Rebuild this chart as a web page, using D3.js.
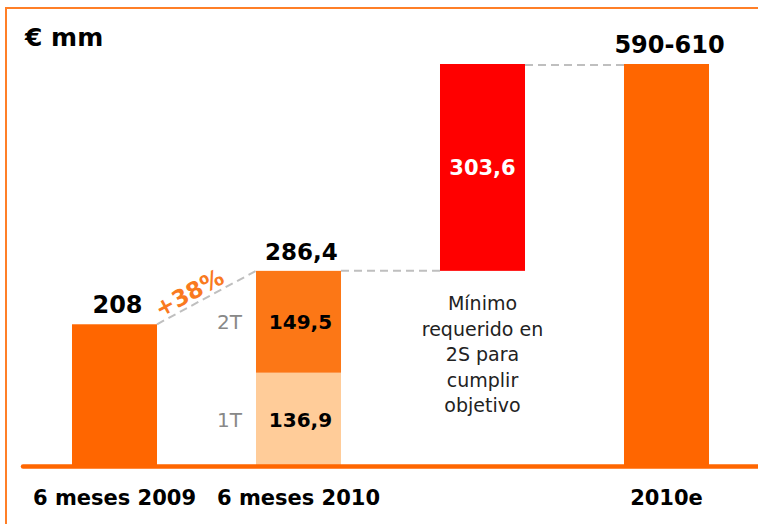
<!DOCTYPE html>
<html lang="es">
<head>
    <meta charset="UTF-8">
    <title>EBITDA objetivo 2010</title>
    <style>
        body { margin: 0; background: #fff; }
        svg { display: block; font-family: "DejaVu Sans", Verdana, sans-serif; }
    </style>
</head>
<body>
    <script src="https://d3js.org/d3.v7.min.js"></script>
    <script>
        // data
        let categories = ["6 meses 2009", "6 meses 2010", "minimo", "2010e"];
        let xLabels = ["6 meses 2009", "6 meses 2010", "", "2010e"];
        let firstHalf2009 = 208;
        let quarterLabels = ["1T", "2T"];
        let quarterValues = [136.9, 149.5];
        let required2S = 303.6;
        let target2010 = [590, 610];
        let growthLabel = "+38%";
        let noteLines = ["Mínimo", "requerido en", "2S para", "cumplir", "objetivo"];

        let W = 758, H = 524;
        let orange = "#FF6600", orangeMid = "#FC7716", orangeLight = "#FFCC99", red = "#FF0000";
        let frame = "#FF7F27", dash = "#BFBFBF";

        let es = d3.formatLocale({ decimal: ",", thousands: ".", grouping: [3], currency: ["", " €"] });
        let fmt = es.format(",.1f");

        let svg = d3.select("body").append("svg")
            .attr("width", W)
            .attr("height", H);

        let x = d3.scaleBand()
            .domain(categories)
            .range([22.5, 758.5])
            .paddingInner(0.538)
            .paddingOuter(0.269);

        let y = d3.scaleLinear()
            .domain([0, target2010[0]])
            .range([466, 64]);

        let bw = x.bandwidth();
        let total2010 = d3.sum(quarterValues);

        // frame
        svg.append("path")
            .attr("d", "M6," + H + " V8 H" + W)
            .attr("fill", "none")
            .attr("stroke", frame)
            .attr("stroke-width", 2);

        svg.append("text")
            .attr("x", 25).attr("y", 46)
            .attr("font-size", 25).attr("font-weight", "bold")
            .text("€ mm");

        // bar 2009
        svg.append("rect")
            .attr("x", x(categories[0])).attr("width", bw)
            .attr("y", y(firstHalf2009)).attr("height", y(0) - y(firstHalf2009))
            .attr("fill", orange);

        // stacked 2010 quarters
        let stack = [];
        let acc = 0;
        quarterValues.forEach(function(v, i) {
            stack.push({ label: quarterLabels[i], v: v, y0: acc, y1: acc + v });
            acc += v;
        });
        let qColors = [orangeLight, orangeMid];

        svg.selectAll("rect.q").data(stack).enter().append("rect")
            .attr("class", "q")
            .attr("x", x(categories[1])).attr("width", bw)
            .attr("y", function(d) { return y(d.y1); })
            .attr("height", function(d) { return y(d.y0) - y(d.y1); })
            .attr("fill", function(d, i) { return qColors[i]; });

        svg.selectAll("text.qv").data(stack).enter().append("text")
            .attr("class", "qv")
            .attr("x", x(categories[1]) + bw / 2 + 2)
            .attr("y", function(d) { return (y(d.y0) + y(d.y1)) / 2 + 7.5; })
            .attr("text-anchor", "middle")
            .attr("font-size", 20).attr("font-weight", "bold")
            .text(function(d) { return fmt(d.v); });

        svg.selectAll("text.ql").data(stack).enter().append("text")
            .attr("class", "ql")
            .attr("x", x(categories[1]) - 14)
            .attr("y", function(d) { return (y(d.y0) + y(d.y1)) / 2 + 7.5; })
            .attr("text-anchor", "end")
            .attr("font-size", 20).attr("fill", "#888")
            .text(function(d) { return d.label; });

        // required in 2S (floating)
        let reqTop = total2010 + required2S;
        svg.append("rect")
            .attr("x", x(categories[2])).attr("width", bw)
            .attr("y", y(reqTop)).attr("height", y(total2010) - y(reqTop))
            .attr("fill", red);

        svg.append("text")
            .attr("x", x(categories[2]) + bw / 2)
            .attr("y", (y(total2010) + y(reqTop)) / 2 + 7.5)
            .attr("text-anchor", "middle")
            .attr("font-size", 21).attr("font-weight", "bold").attr("fill", "#fff")
            .text(fmt(required2S));

        // 2010e bar
        svg.append("rect")
            .attr("x", x(categories[3])).attr("width", bw)
            .attr("y", y(target2010[0])).attr("height", y(0) - y(target2010[0]))
            .attr("fill", orange);

        // dashed connectors
        let links = [
            [x(categories[0]) + bw, y(firstHalf2009), x(categories[1]), y(total2010)],
            [x(categories[1]) + bw, y(total2010), x(categories[2]), y(total2010)],
            [x(categories[2]) + bw, y(reqTop) + 1, x(categories[3]), y(reqTop) + 1]
        ];
        svg.selectAll("line.dash").data(links).enter().append("line")
            .attr("class", "dash")
            .attr("x1", function(d) { return d[0]; }).attr("y1", function(d) { return d[1]; })
            .attr("x2", function(d) { return d[2]; }).attr("y2", function(d) { return d[3]; })
            .attr("stroke", dash).attr("stroke-width", 2)
            .attr("stroke-dasharray", "8,5");

        // totals on top
        let tops = [
            { c: categories[0], v: firstHalf2009, t: d3.format("d")(firstHalf2009), size: 24 },
            { c: categories[1], v: total2010, t: fmt(total2010), size: 23 },
            { c: categories[3], v: target2010[0], t: target2010.join("-"), size: 24 }
        ];
        svg.selectAll("text.top").data(tops).enter().append("text")
            .attr("class", "top")
            .attr("x", function(d) { return x(d.c) + bw / 2 + 3; })
            .attr("y", function(d) { return y(d.v) - 11; })
            .attr("text-anchor", "middle")
            .attr("font-size", function(d) { return d.size; })
            .attr("font-weight", "bold")
            .text(function(d) { return d.t; });

        // growth label along the connector
        let ang = Math.atan2(links[0][3] - links[0][1], links[0][2] - links[0][0]) * 180 / Math.PI;
        svg.append("text")
            .attr("transform", "translate(193,300) rotate(" + ang + ")")
            .attr("text-anchor", "middle")
            .attr("font-size", 23).attr("font-weight", "bold").attr("fill", "#F97A1F")
            .text(growthLabel);

        // note under the red bar
        svg.append("g").selectAll("text").data(noteLines).enter().append("text")
            .attr("x", x(categories[2]) + bw / 2)
            .attr("y", function(d, i) { return 310 + i * 25.5; })
            .attr("text-anchor", "middle")
            .attr("font-size", 19).attr("fill", "#222")
            .text(function(d) { return d; });

        // baseline
        svg.append("line")
            .attr("x1", 23).attr("x2", W)
            .attr("y1", y(0) + 0.5).attr("y2", y(0) + 0.5)
            .attr("stroke", orange).attr("stroke-width", 4.5)
            .attr("stroke-linecap", "round");

        // category labels
        svg.selectAll("text.xl").data(categories).enter().append("text")
            .attr("class", "xl")
            .attr("x", function(d) { return x(d) + bw / 2; })
            .attr("y", 505)
            .attr("text-anchor", "middle")
            .attr("font-size", 21).attr("font-weight", "bold")
            .text(function(d, i) { return xLabels[i]; });
    </script>
</body>
</html>
